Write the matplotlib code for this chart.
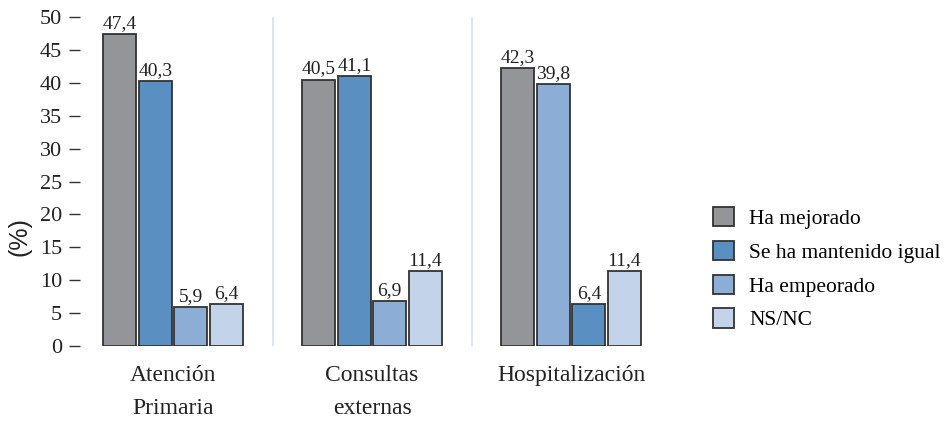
import numpy as np
import matplotlib
matplotlib.use("Agg")
import matplotlib.pyplot as plt
from matplotlib.patches import Patch

plt.rcParams['font.family'] = ['Liberation Serif', 'DejaVu Serif']

# datos
grupos = ["Atención\nPrimaria", "Consultas\nexternas", "Hospitalización"]
series = ["Ha mejorado", "Se ha mantenido igual", "Ha empeorado", "NS/NC"]
valores = [
    [47.4, 40.3, 5.9, 6.4],
    [40.5, 41.1, 6.9, 11.4],
    [42.3, 39.8, 6.4, 11.4],
]
etiquetas = [
    ["47,4", "40,3", "5,9", "6,4"],
    ["40,5", "41,1", "6,9", "11,4"],
    ["42,3", "39,8", "6,4", "11,4"],
]
colores = ["#939598", "#5a8fc2", "#8cadd5", "#c3d4ea"]
# color de cada barra dentro de su grupo
color_barra = [
    [0, 1, 2, 3],
    [0, 1, 2, 3],
    [0, 2, 1, 3],
]
yticks = [0, 5, 10, 15, 20, 25, 30, 35, 40, 45, 50]

fig = plt.figure(figsize=(9.45, 4.22), dpi=100)
ax = fig.add_axes([0.0847, 0.180, 0.6138, 0.7796])

ancho = 0.166
paso = 0.178
x = np.arange(len(grupos))
for g in range(len(grupos)):
    for s in range(len(series)):
        xp = x[g] + (s - 1.5) * paso
        v = valores[g][s]
        ax.bar(xp, v, width=ancho, color=colores[color_barra[g][s]],
               edgecolor="#333333", linewidth=1.3, zorder=3)
        ax.text(xp, v + 0.3, etiquetas[g][s], ha="center", va="bottom",
                fontsize=14, color="#222222")

# separadores entre grupos
for sx in [0.5, 1.5]:
    ax.axvline(sx, color="#d6e2f0", linewidth=1.2, zorder=1)

ax.set_xlim(-0.467, 2.447)
ax.set_ylim(0, 50)
ax.set_yticks(yticks)
ax.set_yticklabels([str(t) for t in yticks], fontsize=16, color="#222222")
ax.tick_params(axis="y", length=8, width=1.0, color="#333333", pad=5)
ax.set_xticks(x)
ax.set_xticklabels(grupos, fontsize=17, color="#222222", linespacing=1.75)
ax.tick_params(axis="x", length=0, pad=14)
for sp in ax.spines.values():
    sp.set_visible(False)

fig.text(0.021, 0.44, "(%)", rotation=90, ha="center", va="center",
         fontsize=18, family="Liberation Sans", color="#222222")

handles = [Patch(facecolor=c, edgecolor="#333333", linewidth=1.3) for c in colores]
fig.legend(handles, series, loc="upper left", bbox_to_anchor=(0.745, 0.53),
           frameon=False, fontsize=15.5, handlelength=1.0, handleheight=1.0,
           handletextpad=0.7, labelspacing=0.55, borderaxespad=0)

fig.savefig("out.png", dpi=100)
